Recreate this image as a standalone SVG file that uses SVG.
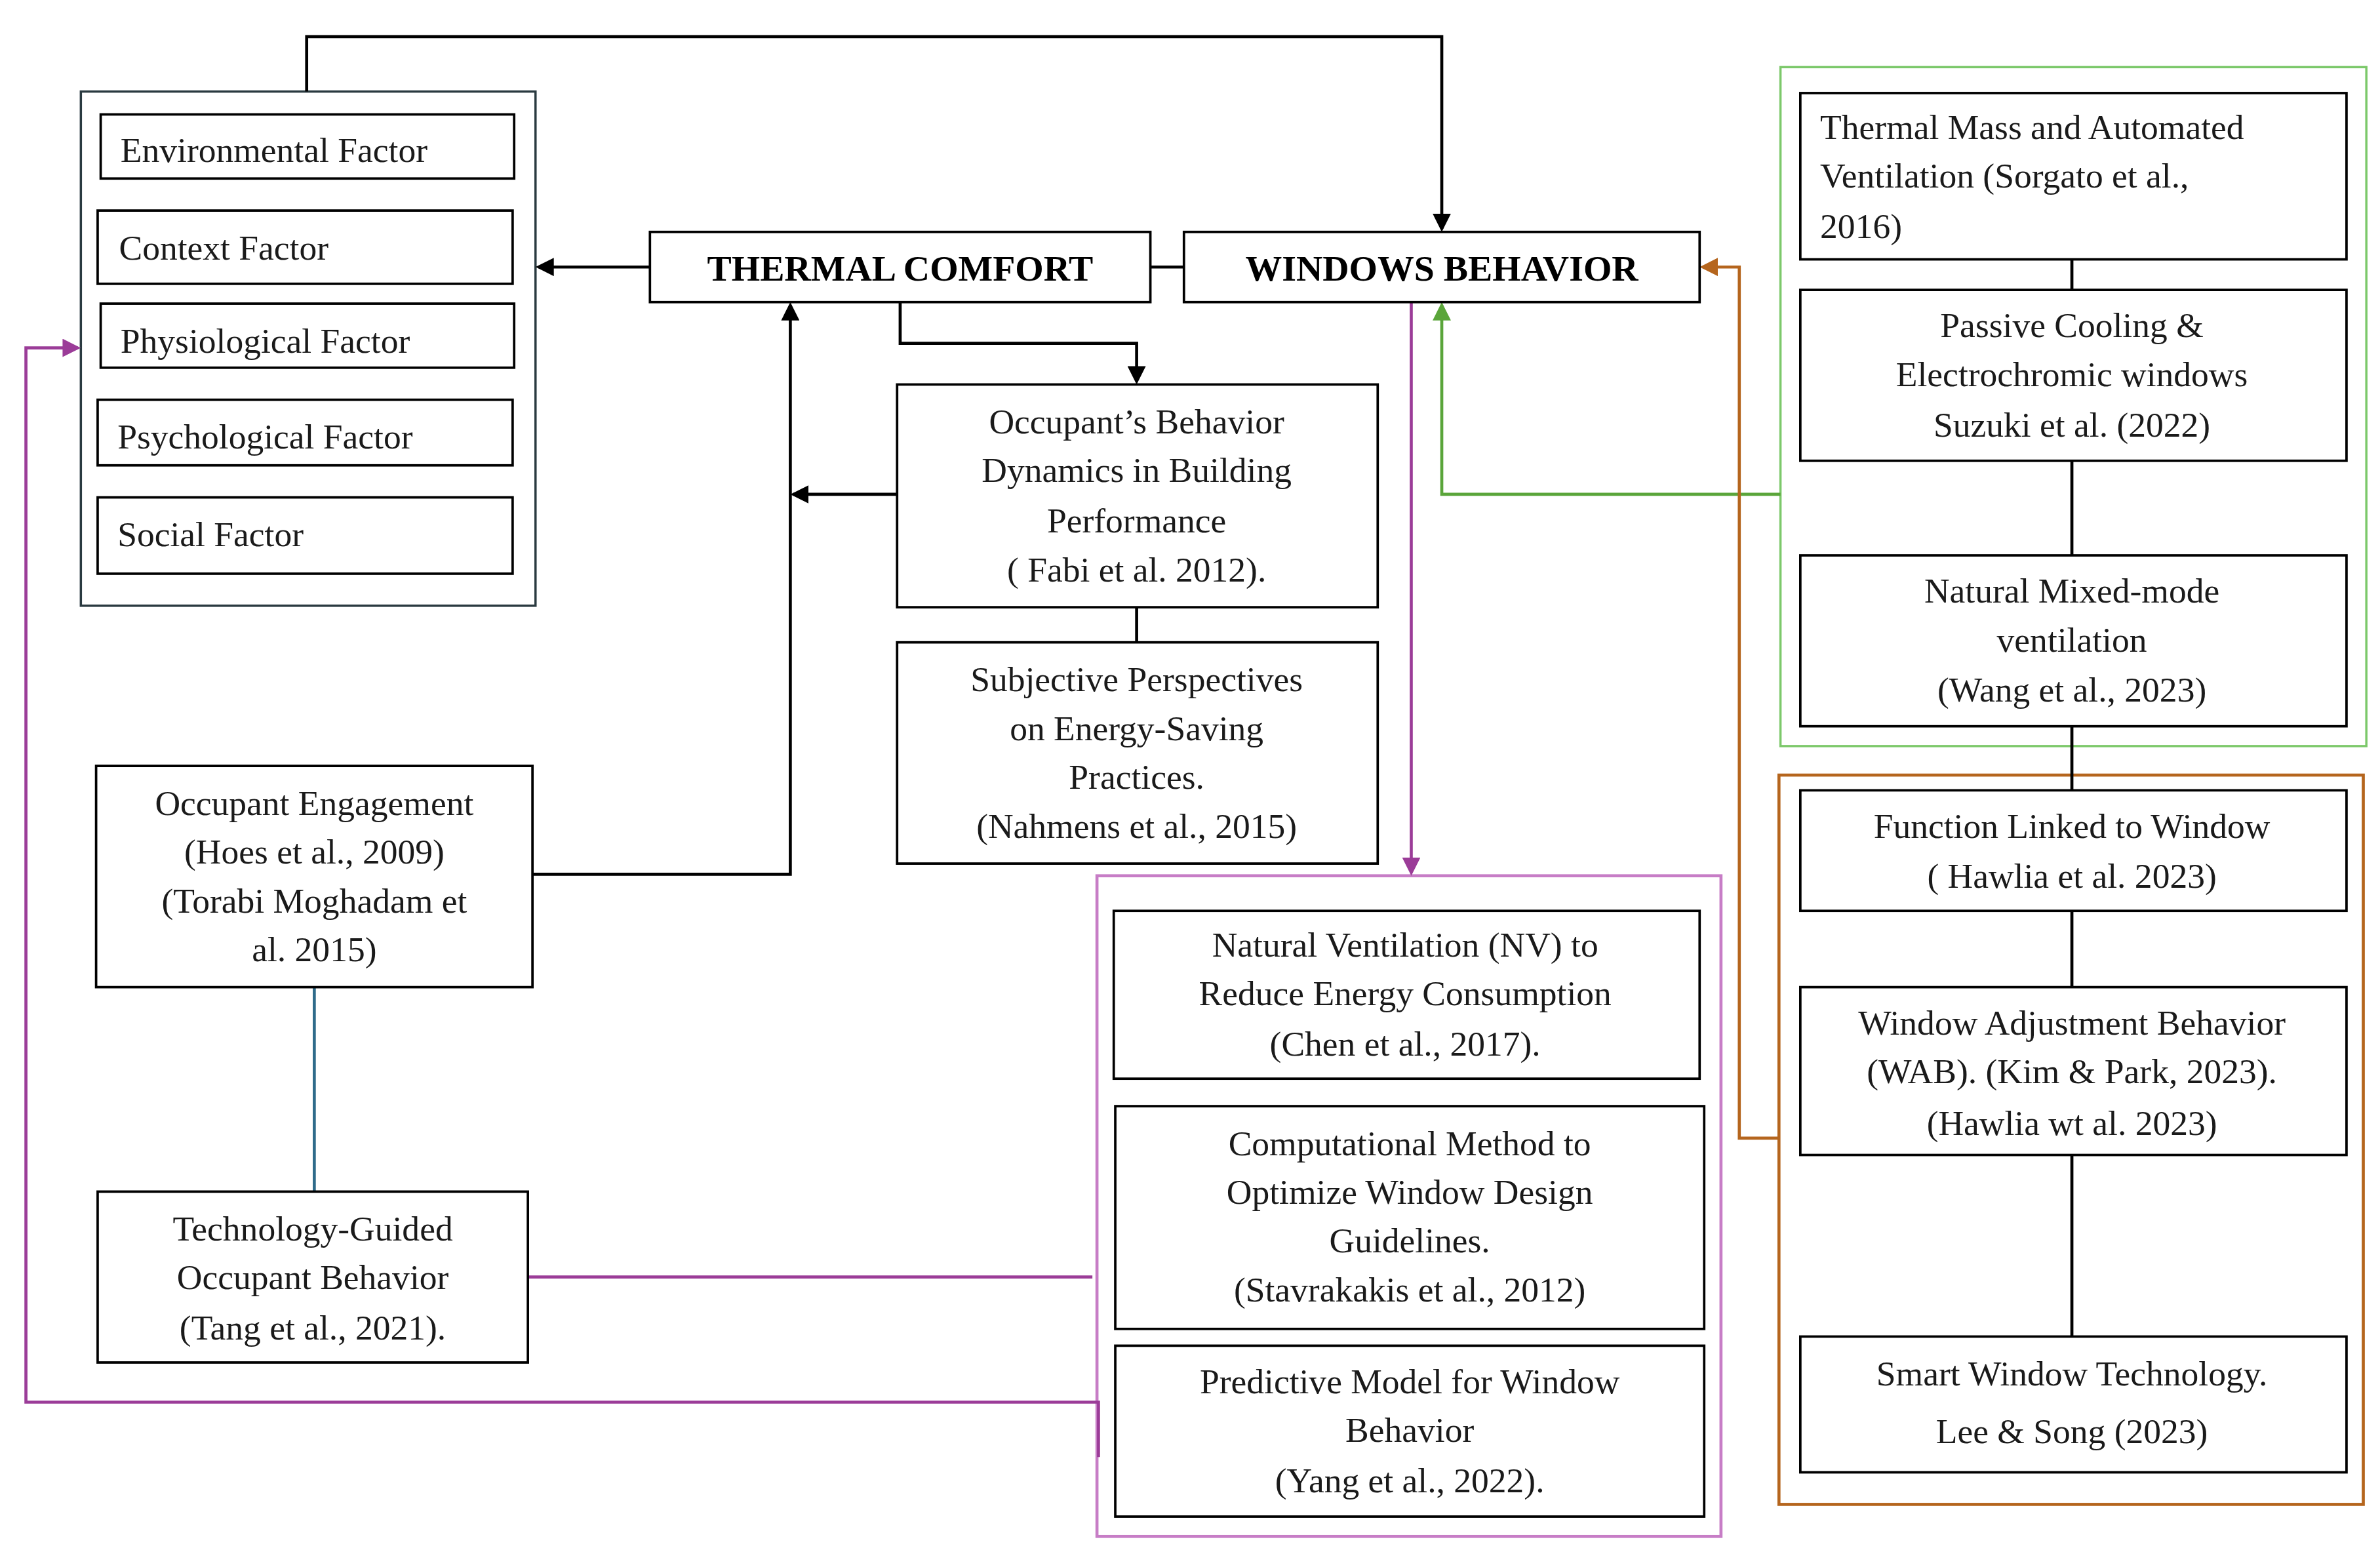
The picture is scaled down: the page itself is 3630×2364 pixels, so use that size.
<svg xmlns="http://www.w3.org/2000/svg" width="3630" height="2364" viewBox="0 0 3630 2364">
<style>
.b{fill:#fff;stroke:#000;stroke-width:1.6}
.t{font-family:"Liberation Serif",serif;font-size:23px;fill:#1a1a1a}
.c{text-anchor:middle}
.h{font-family:"Liberation Serif",serif;font-size:24px;font-weight:bold;text-anchor:middle}
.k{fill:none;stroke:#000;stroke-width:2}
.p{fill:none;stroke:#9b3c98;stroke-width:2}
.g{fill:none;stroke:#5aa53a;stroke-width:2}
.o{fill:none;stroke:#b5651d;stroke-width:2}
</style>
<defs>
<marker id="ak" markerWidth="6" markerHeight="6" refX="5" refY="3" orient="auto"><path d="M0,0 L6,3 L0,6z" fill="#000"/></marker>
<marker id="ap" markerWidth="6" markerHeight="6" refX="5" refY="3" orient="auto"><path d="M0,0 L6,3 L0,6z" fill="#9b3c98"/></marker>
<marker id="ag" markerWidth="6" markerHeight="6" refX="5" refY="3" orient="auto"><path d="M0,0 L6,3 L0,6z" fill="#5aa53a"/></marker>
<marker id="ao" markerWidth="6" markerHeight="6" refX="5" refY="3" orient="auto"><path d="M0,0 L6,3 L0,6z" fill="#b5651d"/></marker>
</defs>
<rect width="3630" height="2364" fill="#fff"/>
<g transform="scale(2.327)">
<g id="containers">
<rect x="53" y="60" width="298" height="337" fill="#fff" stroke="#2a3a40" stroke-width="1.5"/>
<rect x="719" y="574" width="409" height="433" fill="none" stroke="#c77dc6" stroke-width="2"/>
<rect x="1167" y="44" width="384" height="445" fill="none" stroke="#7cc86a" stroke-width="1.5"/>
<rect x="1166" y="508" width="383" height="478" fill="none" stroke="#b5651d" stroke-width="2"/>
</g>
<g id="connectors">
<path class="k" d="M201,60 V24 H945 V150" marker-end="url(#ak)"/>
<path class="k" d="M754,175 H776"/>
<path class="k" d="M426,175 H353" marker-end="url(#ak)"/>
<path class="k" d="M590,198 V225 H745 V250" marker-end="url(#ak)"/>
<path class="k" d="M588,324 H520" marker-end="url(#ak)"/>
<path class="k" d="M349,573 H518 V200" marker-end="url(#ak)"/>
<path class="k" d="M745,398 V421"/>
<path d="M206,647 V781" fill="none" stroke="#2e6b8a" stroke-width="2"/>
<path class="p" d="M346,837 H716"/>
<path class="p" d="M925,198 V572" marker-end="url(#ap)"/>
<path class="p" d="M720,955 V919 H17 V228 H51" marker-end="url(#ap)"/>
<path class="g" d="M1167,324 H945 V200" marker-end="url(#ag)"/>
<path class="o" d="M1166,746 H1140 V175 H1116" marker-end="url(#ao)"/>
<path class="k" d="M1358,170 V190 M1358,302 V364 M1358,476 V518 M1358,597 V647 M1358,757 V876"/>
</g>
<g id="env"><rect class="b" x="66" y="75" width="271" height="42"/><text class="t" x="79" y="106">Environmental  Factor</text></g>
<g id="context"><rect class="b" x="64" y="138" width="272" height="48"/><text class="t" x="78" y="170">Context Factor</text></g>
<g id="physio"><rect class="b" x="66" y="199" width="271" height="42"/><text class="t" x="79" y="231">Physiological   Factor</text></g>
<g id="psych"><rect class="b" x="64" y="262" width="272" height="43"/><text class="t" x="77" y="294">Psychological Factor</text></g>
<g id="social"><rect class="b" x="64" y="326" width="272" height="50"/><text class="t" x="77" y="358">Social Factor</text></g>
<g id="tc"><rect class="b" x="426" y="152" width="328" height="46"/><text class="h" x="590" y="184">THERMAL COMFORT</text></g>
<g id="wb"><rect class="b" x="776" y="152" width="338" height="46"/><text class="h" x="945" y="184">WINDOWS BEHAVIOR</text></g>
<g id="occ"><rect class="b" x="588" y="252" width="315" height="146"/><text class="t c" x="745" y="284">Occupant’s Behavior</text><text class="t c" x="745" y="316">Dynamics in Building</text><text class="t c" x="745" y="349">Performance</text><text class="t c" x="745" y="381">( Fabi et al. 2012).</text></g>
<g id="subj"><rect class="b" x="588" y="421" width="315" height="145"/><text class="t c" x="745" y="453">Subjective Perspectives</text><text class="t c" x="745" y="485">on  Energy-Saving</text><text class="t c" x="745" y="517">Practices.</text><text class="t c" x="745" y="549">(Nahmens et al., 2015)</text></g>
<g id="eng"><rect class="b" x="63" y="502" width="286" height="145"/><text class="t c" x="206" y="534">Occupant Engagement</text><text class="t c" x="206" y="566">(Hoes et al., 2009)</text><text class="t c" x="206" y="598">(Torabi Moghadam et</text><text class="t c" x="206" y="630">al. 2015)</text></g>
<g id="tech"><rect class="b" x="64" y="781" width="282" height="112"/><text class="t c" x="205" y="813">Technology-Guided</text><text class="t c" x="205" y="845">Occupant Behavior</text><text class="t c" x="205" y="878">(Tang et al., 2021).</text></g>
<g id="nv"><rect class="b" x="730" y="597" width="384" height="110"/><text class="t c" x="921" y="627">Natural Ventilation  (NV) to</text><text class="t c" x="921" y="659">Reduce Energy Consumption</text><text class="t c" x="921" y="692">(Chen et al., 2017).</text></g>
<g id="comp"><rect class="b" x="731" y="725" width="386" height="146"/><text class="t c" x="924" y="757">Computational Method to</text><text class="t c" x="924" y="789">Optimize  Window Design</text><text class="t c" x="924" y="821">Guidelines.</text><text class="t c" x="924" y="853">(Stavrakakis  et al., 2012)</text></g>
<g id="pred"><rect class="b" x="731" y="882" width="386" height="112"/><text class="t c" x="924" y="913">Predictive Model for Window</text><text class="t c" x="924" y="945">Behavior</text><text class="t c" x="924" y="978">(Yang et al., 2022).</text></g>
<g id="mass"><rect class="b" x="1180" y="61" width="358" height="109"/><text class="t" x="1193" y="91">Thermal Mass and Automated</text><text class="t" x="1193" y="123">Ventilation  (Sorgato et al.,</text><text class="t" x="1193" y="156">2016)</text></g>
<g id="passive"><rect class="b" x="1180" y="190" width="358" height="112"/><text class="t c" x="1358" y="221">Passive Cooling &amp;</text><text class="t c" x="1358" y="253">Electrochromic windows</text><text class="t c" x="1358" y="286">Suzuki et al. (2022)</text></g>
<g id="mixed"><rect class="b" x="1180" y="364" width="358" height="112"/><text class="t c" x="1358" y="395">Natural  Mixed-mode</text><text class="t c" x="1358" y="427">ventilation</text><text class="t c" x="1358" y="460">(Wang et al., 2023)</text></g>
<g id="func"><rect class="b" x="1180" y="518" width="358" height="79"/><text class="t c" x="1358" y="549">Function Linked to Window</text><text class="t c" x="1358" y="582">( Hawlia  et al. 2023)</text></g>
<g id="wab"><rect class="b" x="1180" y="647" width="358" height="110"/><text class="t c" x="1358" y="678">Window Adjustment Behavior</text><text class="t c" x="1358" y="710">(WAB). (Kim  &amp; Park, 2023).</text><text class="t c" x="1358" y="744">(Hawlia  wt al. 2023)</text></g>
<g id="smart"><rect class="b" x="1180" y="876" width="358" height="89"/><text class="t c" x="1358" y="908">Smart Window Technology.</text><text class="t c" x="1358" y="946">Lee &amp; Song (2023)</text></g>
</g>
</svg>
